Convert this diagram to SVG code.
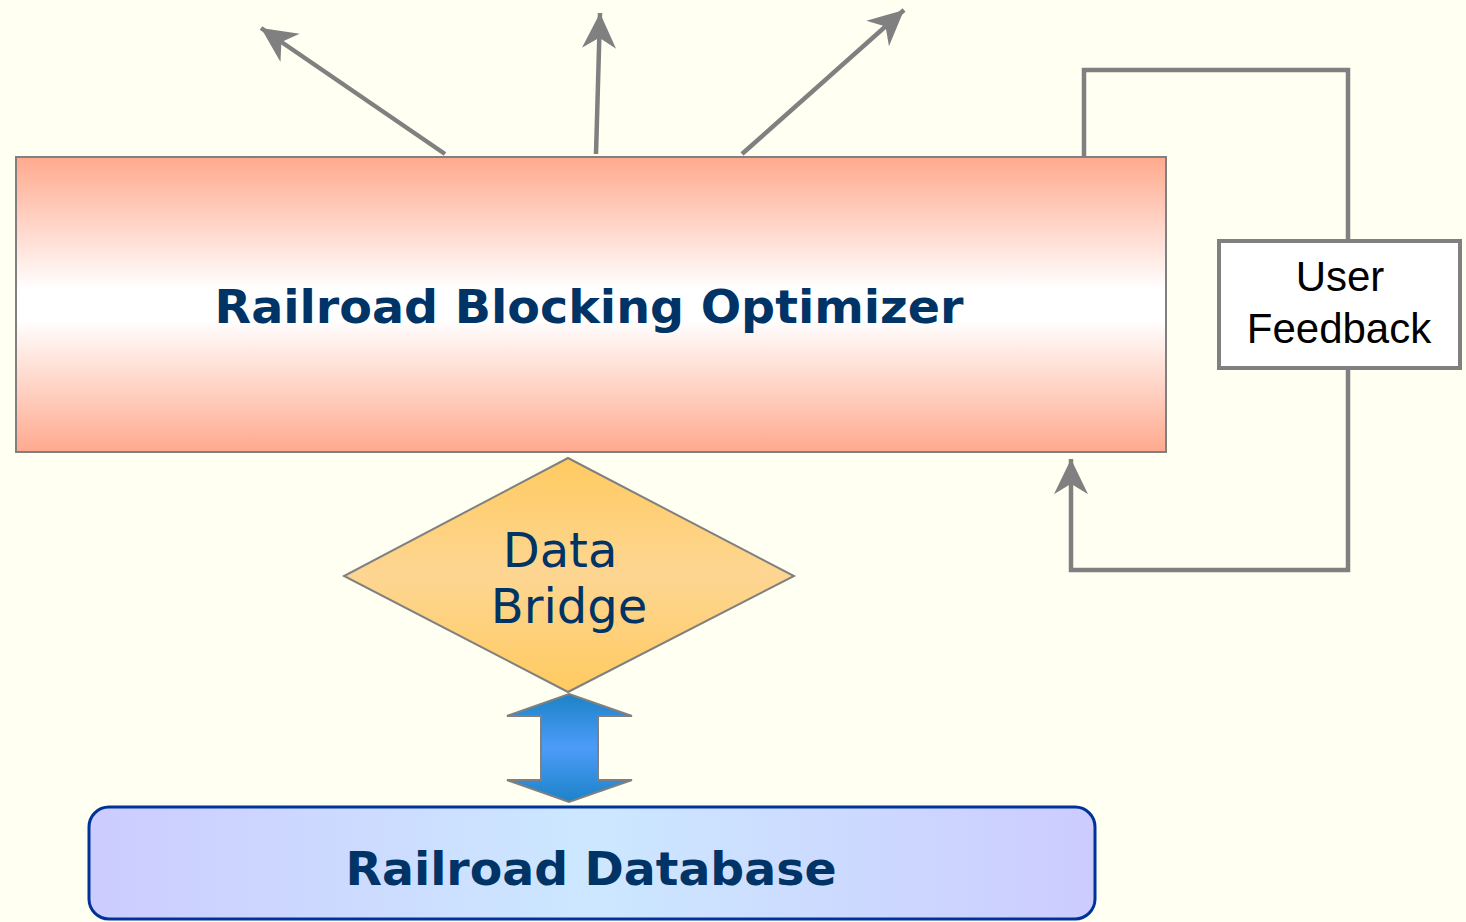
<svg xmlns="http://www.w3.org/2000/svg" width="1466" height="922" viewBox="0 0 1466 922">
<style>
.conn{fill:none;stroke:#808080;stroke-width:4.5}
.title{font-family:"DejaVu Sans",Verdana,sans-serif;font-weight:bold;fill:#003366}
.reg{font-family:"DejaVu Sans",Verdana,sans-serif;fill:#003366}
.fb{font-family:"Liberation Sans",Arial,sans-serif;fill:#000000}
</style>
<defs>
<linearGradient id="gOpt" x1="0" y1="0" x2="0" y2="1">
<stop offset="0" stop-color="#FFA98E"/>
<stop offset="0.45" stop-color="#FFFFFF"/>
<stop offset="0.55" stop-color="#FFFFFF"/>
<stop offset="1" stop-color="#FFA98E"/>
</linearGradient>
<linearGradient id="gDia" x1="0" y1="0" x2="0" y2="1">
<stop offset="0" stop-color="#FFCA60"/>
<stop offset="0.5" stop-color="#FDD692"/>
<stop offset="1" stop-color="#FFCA60"/>
</linearGradient>
<linearGradient id="gArr" x1="0" y1="0" x2="0" y2="1">
<stop offset="0" stop-color="#1C82C8"/>
<stop offset="0.5" stop-color="#4D9CF8"/>
<stop offset="1" stop-color="#1C82C8"/>
</linearGradient>
<linearGradient id="gDb" x1="0" y1="0" x2="1" y2="0">
<stop offset="0" stop-color="#CCCCFF"/>
<stop offset="0.5" stop-color="#CCE8FF"/>
<stop offset="1" stop-color="#CCCCFF"/>
</linearGradient>
<marker id="ah" markerUnits="userSpaceOnUse" markerWidth="40" markerHeight="40" viewBox="-32 -16 34 32" refX="0" refY="0" orient="auto">
<path d="M0,0 L-30,-14.5 L-21,0 L-30,14.5 Z" fill="#808080"/>
</marker>
</defs>
<rect width="1466" height="922" fill="#FFFFF2"/>
<g id="connectors">
<line class="conn" x1="445" y1="154" x2="261" y2="28" marker-end="url(#ah)"/>
<line class="conn" x1="596" y1="154" x2="600" y2="13" marker-end="url(#ah)"/>
<line class="conn" x1="742" y1="154" x2="904" y2="10" marker-end="url(#ah)"/>
<polyline class="conn" points="1084,157 1084,70 1348,70 1348,240"/>
<polyline class="conn" points="1348,369 1348,570 1071,570 1071,459" marker-end="url(#ah)"/>
</g>
<g id="optimizer">
<rect x="16" y="157" width="1150" height="295" fill="url(#gOpt)" stroke="#808080" stroke-width="2"/>
<text class="title" x="589" y="323" font-size="46" text-anchor="middle" textLength="749" lengthAdjust="spacingAndGlyphs">Railroad Blocking Optimizer</text>
</g>
<g id="feedback">
<rect x="1219" y="241" width="241" height="127" fill="#FFFFFF" stroke="#808080" stroke-width="4"/>
<text class="fb" x="1340" y="291" font-size="42" text-anchor="middle">User</text>
<text class="fb" x="1339" y="343" font-size="42" text-anchor="middle">Feedback</text>
</g>
<g id="bridge">
<polygon points="568,458 794,576 568,692 344,576" fill="url(#gDia)" stroke="#808080" stroke-width="2"/>
<text class="reg" x="560" y="567" font-size="48" text-anchor="middle">Data</text>
<text class="reg" x="569" y="623" font-size="48" text-anchor="middle">Bridge</text>
</g>
<g id="dblarrow">
<polygon points="569,694 632,716 598,716 598,780 632,780 569,802 507,780 541,780 541,716 507,716" fill="url(#gArr)" stroke="#808080" stroke-width="2"/>
</g>
<g id="database">
<rect x="89" y="807" width="1006" height="112" rx="20" ry="20" fill="url(#gDb)" stroke="#003399" stroke-width="3"/>
<text class="title" x="591" y="885" font-size="46" text-anchor="middle" textLength="491" lengthAdjust="spacingAndGlyphs">Railroad Database</text>
</g>
</svg>
